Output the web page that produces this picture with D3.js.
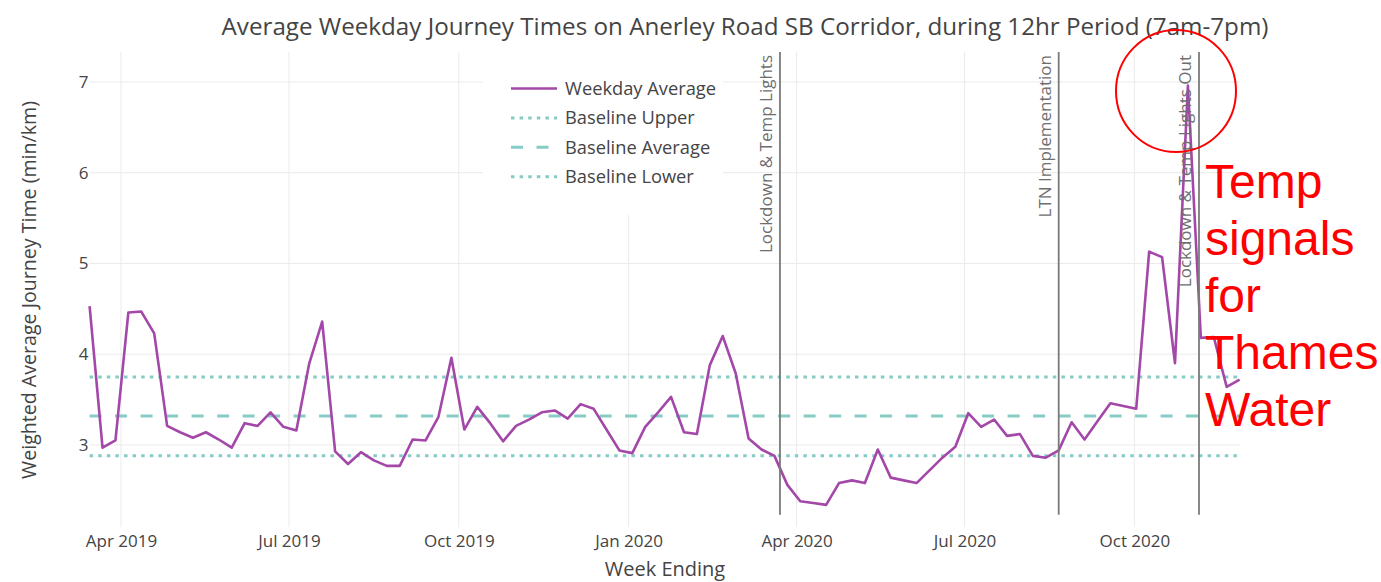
<!DOCTYPE html>
<meta charset="utf-8">
<script src="https://cdn.jsdelivr.net/npm/d3@7"></script>
<style>
  body { margin: 0; background: #fff; }
  text { font-family: "Open Sans", sans-serif; }
</style>
<body>
<script>

// Week ending dates (Fridays) and weekday average journey times (min/km)
var weeks = [
  "2019-03-15","2019-03-22","2019-03-29","2019-04-05","2019-04-12","2019-04-19","2019-04-26",
  "2019-05-03","2019-05-10","2019-05-17","2019-05-24","2019-05-31","2019-06-07","2019-06-14",
  "2019-06-21","2019-06-28","2019-07-05","2019-07-12","2019-07-19","2019-07-26","2019-08-02",
  "2019-08-09","2019-08-16","2019-08-23","2019-08-30","2019-09-06","2019-09-13","2019-09-20",
  "2019-09-27","2019-10-04","2019-10-11","2019-10-18","2019-10-25","2019-11-01","2019-11-08",
  "2019-11-15","2019-11-22","2019-11-29","2019-12-06","2019-12-13","2019-12-20","2019-12-27",
  "2020-01-03","2020-01-10","2020-01-17","2020-01-24","2020-01-31","2020-02-07","2020-02-14",
  "2020-02-21","2020-02-28","2020-03-06","2020-03-13","2020-03-20","2020-03-27","2020-04-03",
  "2020-04-10","2020-04-17","2020-04-24","2020-05-01","2020-05-08","2020-05-15","2020-05-22",
  "2020-05-29","2020-06-05","2020-06-12","2020-06-19","2020-06-26","2020-07-03","2020-07-10",
  "2020-07-17","2020-07-24","2020-07-31","2020-08-07","2020-08-14","2020-08-21","2020-08-28",
  "2020-09-04","2020-09-11","2020-09-18","2020-09-25","2020-10-02","2020-10-09","2020-10-16",
  "2020-10-23","2020-10-30","2020-11-06","2020-11-13","2020-11-20","2020-11-27"];

var weekdayAvg = [
  4.53, 2.97, 3.05, 4.46, 4.47, 4.23, 3.21, 3.14, 3.08, 3.14, 3.06, 2.97, 3.24, 3.21,
  3.36, 3.20, 3.16, 3.90, 4.36, 2.93, 2.79, 2.92, 2.83, 2.77, 2.77, 3.06, 3.05, 3.31,
  3.96, 3.17, 3.42, 3.24, 3.04, 3.21, 3.28, 3.36, 3.38, 3.29, 3.45, 3.40, 3.17, 2.94,
  2.91, 3.20, 3.36, 3.53, 3.14, 3.12, 3.88, 4.20, 3.79, 3.07, 2.95, 2.88, 2.56, 2.38,
  2.36, 2.34, 2.58, 2.61, 2.58, 2.95, 2.64, 2.61, 2.58, 2.72, 2.86, 2.98, 3.35, 3.20,
  3.28, 3.10, 3.12, 2.88, 2.86, 2.94, 3.25, 3.06, 3.26, 3.46, 3.43, 3.40, 5.13, 5.07,
  3.90, 6.96, 4.18, 4.19, 3.64, 3.72];

var baselineNames = ["Baseline Upper", "Baseline Average", "Baseline Lower"];
var baselineValues = [3.75, 3.32, 2.88];

var eventDates = ["2020-03-23", "2020-08-21", "2020-11-05"];
var eventLabels = ["Lockdown & Temp Lights", "LTN Implementation", "Lockdown & Temp Lights Out"];

var xTickDates = ["2019-04-01","2019-07-01","2019-10-01","2020-01-01","2020-04-01","2020-07-01","2020-10-01"];
var yTickValues = [3, 4, 5, 6, 7];

var noteLines = ["Temp", "signals", "for", "Thames", "Water"];

// layout
var W = 1381, H = 582;
var plot = {left: 89.6, right: 1239.6, top: 52, bottom: 527};
var purple = "#a347a8", teal = "#86cbc6", ink = "#444";

var parse = d3.utcParse("%Y-%m-%d");
var data = weeks.map(function(d, i) { return {date: parse(d), value: weekdayAvg[i]}; });

var svg = d3.select("body").append("svg")
    .attr("width", W)
    .attr("height", H);

var x = d3.scaleUtc()
  .domain([parse(weeks[0]), parse(weeks[weeks.length - 1])])
  .range([plot.left, plot.right]);

var y = d3.scaleLinear()
  .domain([2.096, 7.33])
  .range([plot.bottom, plot.top]);

// grid
svg.append("g").selectAll("line")
  .data(yTickValues)
  .enter().append("line")
    .attr("x1", plot.left).attr("x2", plot.right)
    .attr("y1", function(d) { return y(d); }).attr("y2", function(d) { return y(d); })
    .attr("stroke", "#ebebeb").attr("stroke-width", 1);

svg.append("g").selectAll("line")
  .data(xTickDates.map(parse))
  .enter().append("line")
    .attr("x1", function(d) { return x(d); }).attr("x2", function(d) { return x(d); })
    .attr("y1", plot.top).attr("y2", plot.bottom)
    .attr("stroke", "#ebebeb").attr("stroke-width", 1);

// legend background (covers grid)
svg.append("rect")
  .attr("x", 483).attr("y", plot.top)
  .attr("width", 240).attr("height", 163)
  .attr("fill", "#fff");

// axes
var xAxis = svg.append("g")
  .attr("transform", "translate(0," + plot.bottom + ")")
  .call(d3.axisBottom(x).tickValues(xTickDates.map(parse))
        .tickFormat(d3.utcFormat("%b %Y")).tickSize(0).tickPadding(8));

var yAxis = svg.append("g")
  .attr("transform", "translate(" + plot.left + ",0)")
  .call(d3.axisLeft(y).tickValues(yTickValues).tickFormat(d3.format("d"))
        .tickSize(0).tickPadding(1));

[xAxis, yAxis].forEach(function(a) {
  a.select(".domain").remove();
  a.selectAll("text")
    .style("font-family", "'Open Sans', sans-serif")
    .style("font-size", "17px")
    .attr("fill", ink);
});

// baselines
var dashes = ["3.5,5.1", "12,13.5", "3.5,5.1"];
svg.append("g").selectAll("line")
  .data(baselineValues)
  .enter().append("line")
    .attr("x1", plot.left).attr("x2", plot.right)
    .attr("y1", function(d) { return y(d); }).attr("y2", function(d) { return y(d); })
    .attr("stroke", teal).attr("stroke-width", 3)
    .attr("stroke-dasharray", function(d, i) { return dashes[i]; });

// weekday average line
var line = d3.line()
  .x(function(d) { return x(d.date); })
  .y(function(d) { return y(d.value); });

svg.append("path")
  .datum(data)
  .attr("d", line)
  .attr("fill", "none")
  .attr("stroke", purple)
  .attr("stroke-width", 2.6)
  .attr("stroke-linejoin", "round");

// event lines and labels
var ev = svg.append("g").selectAll("g")
  .data(eventDates.map(parse))
  .enter().append("g");

ev.append("line")
  .attr("x1", function(d) { return x(d); }).attr("x2", function(d) { return x(d); })
  .attr("y1", plot.top).attr("y2", y(2.23))
  .attr("stroke", "#7a7a7a").attr("stroke-width", 1.8);

ev.append("text")
  .attr("transform", function(d) { return "translate(" + (x(d) - 8) + "," + (plot.top + 3) + ") rotate(-90)"; })
  .attr("text-anchor", "end")
  .style("font-size", "17px")
  .attr("fill", "#6e6e6e")
  .text(function(d, i) { return eventLabels[i]; });

// legend
var legend = svg.append("g");
var legendItems = ["Weekday Average"].concat(baselineNames);
var legendDash = [null].concat(dashes);
legendItems.forEach(function(name, i) {
  var ly = 88.5 + i * 29.4;
  legend.append("line")
    .attr("x1", 511).attr("x2", 557)
    .attr("y1", ly).attr("y2", ly)
    .attr("stroke", i === 0 ? purple : teal)
    .attr("stroke-width", i === 0 ? 2.6 : 3)
    .attr("stroke-dasharray", legendDash[i]);
  legend.append("text")
    .attr("x", 565).attr("y", ly)
    .attr("dy", "0.35em")
    .style("font-size", "18.3px")
    .attr("fill", ink)
    .text(name);
});

// titles
svg.append("text")
  .attr("x", 745).attr("y", 35)
  .attr("text-anchor", "middle")
  .style("font-size", "24.2px")
  .attr("fill", ink)
  .text("Average Weekday Journey Times on Anerley Road SB Corridor, during 12hr Period (7am-7pm)");

svg.append("text")
  .attr("x", 665).attr("y", 576)
  .attr("text-anchor", "middle")
  .style("font-size", "20px")
  .attr("fill", ink)
  .text("Week Ending");

svg.append("text")
  .attr("transform", "translate(36,290) rotate(-90)")
  .attr("text-anchor", "middle")
  .style("font-size", "19.6px")
  .attr("fill", ink)
  .text("Weighted Average Journey Time (min/km)");

// red annotation
svg.append("ellipse")
  .attr("cx", 1176).attr("cy", 91)
  .attr("rx", 60).attr("ry", 61)
  .attr("fill", "none")
  .attr("stroke", "#ff0000")
  .attr("stroke-width", 2);

svg.append("g").selectAll("text")
  .data(noteLines)
  .enter().append("text")
    .attr("x", 1205)
    .attr("y", function(d, i) { return 198 + i * 57; })
    .style("font-family", "'Liberation Sans', Arial, sans-serif")
    .style("font-size", "48px")
    .attr("fill", "#ff0000")
    .text(function(d) { return d; });

</script>
</body>
</html>
